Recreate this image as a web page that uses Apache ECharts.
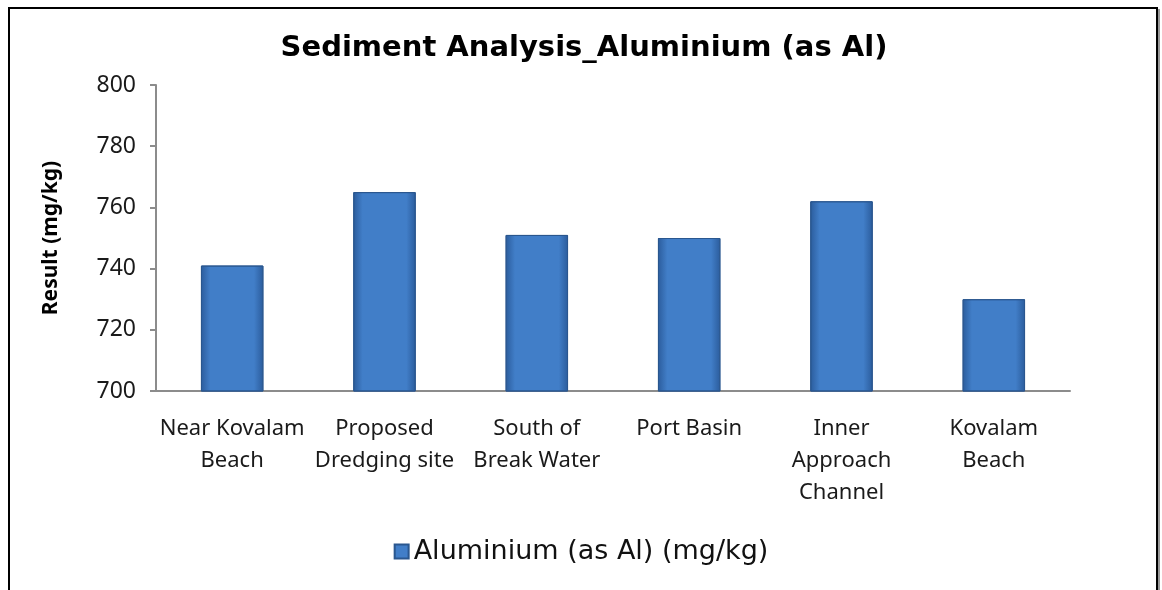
<html>
<head>
    <meta http-equiv="Content-Type" content="text/html; charset=utf-8" />
    <title>Sediment Analysis_Aluminium (as Al)</title>
    <script src="https://cdn.jsdelivr.net/npm/echarts@6/dist/echarts.min.js"></script>
    <style>
        body { margin: 0; background: #fff; }
        #frame {
            position: absolute; left: 8px; top: 7px; width: 1146px; height: 620px;
            border: 2px solid #000; box-shadow: 2px 2px 0 #999;
        }
        #main { position: absolute; left: 0; top: 0; width: 1162px; height: 590px; }
    </style>
</head>
<body>
    <div id="frame"></div>
    <div id="main"></div>

    <script type="text/javascript">
        var sites = [
            'Near Kovalam\nBeach',
            'Proposed\nDredging site',
            'South of\nBreak Water',
            'Port Basin',
            'Inner\nApproach\nChannel',
            'Kovalam\nBeach'
        ];
        var aluminium = [741, 765, 751, 750, 762, 730];
        var yTicks = [700, 720, 740, 760, 780, 800];

        var barColor = {
            type: 'linear', x: 0, y: 0, x2: 1, y2: 0,
            colorStops: [
                { offset: 0, color: '#2b5c9c' },
                { offset: 0.15, color: '#417ec8' },
                { offset: 0.85, color: '#417ec8' },
                { offset: 1, color: '#2b5c9c' }
            ]
        };

        var option = {
            title: {
                text: 'Sediment Analysis_Aluminium (as Al)',
                left: 579,
                top: 29,
                textAlign: 'center',
                textStyle: {
                    fontFamily: 'DejaVu Sans',
                    fontWeight: 'bold',
                    fontSize: 29,
                    color: '#000'
                }
            },
            legend: {
                bottom: 20,
                left: 'center',
                itemWidth: 14,
                itemHeight: 14,
                icon: 'rect',
                itemGap: 6,
                textStyle: {
                    fontFamily: 'DejaVu Sans',
                    fontSize: 27,
                    color: '#111'
                },
                data: ['Aluminium (as Al) (mg/kg)']
            },
            grid: {
                left: 156,
                right: 92,
                top: 85,
                bottom: 199
            },
            xAxis: {
                type: 'category',
                data: sites,
                axisTick: { show: false },
                axisLine: { lineStyle: { color: '#8c8c8c', width: 2 } },
                axisLabel: {
                    interval: 0,
                    margin: 22,
                    lineHeight: 32,
                    fontFamily: 'Noto Sans',
                    fontSize: 22,
                    color: '#1a1a1a'
                }
            },
            yAxis: {
                type: 'value',
                min: yTicks[0],
                max: yTicks[yTicks.length - 1],
                interval: yTicks[1] - yTicks[0],
                name: 'Result (mg/kg)',
                nameLocation: 'middle',
                nameGap: 94,
                nameRotate: 90,
                nameTextStyle: {
                    fontFamily: 'Noto Sans',
                    fontWeight: 'bold',
                    fontSize: 21,
                    color: '#000'
                },
                axisLine: { show: true, lineStyle: { color: '#8c8c8c', width: 2 } },
                axisTick: { show: true, length: 6, lineStyle: { color: '#8c8c8c', width: 2 } },
                splitLine: { show: false },
                axisLabel: {
                    margin: 20,
                    fontFamily: 'Noto Sans',
                    fontSize: 23,
                    color: '#1a1a1a'
                }
            },
            series: [{
                name: 'Aluminium (as Al) (mg/kg)',
                type: 'bar',
                barWidth: '41%',
                itemStyle: {
                    color: barColor,
                    borderColor: '#2a578f',
                    borderWidth: 1
                },
                data: aluminium
            }]
        };

        var myChart = echarts.init(document.getElementById('main'));
        myChart.setOption(option);
    </script>
</body>
</html>
